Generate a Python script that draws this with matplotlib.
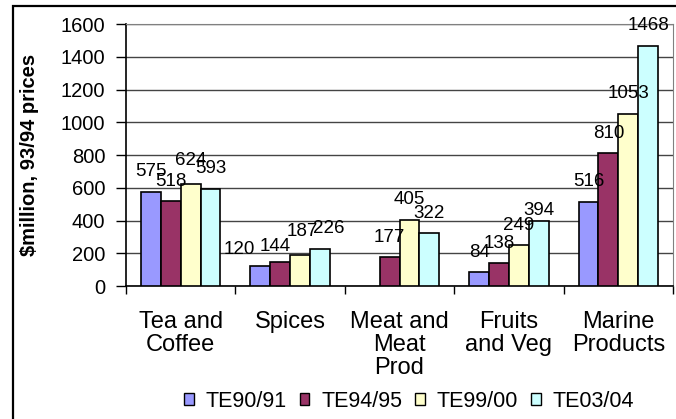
import matplotlib.pyplot as plt
from matplotlib.patches import Patch, Rectangle
import numpy as np

# Export values by product group, $million at 93/94 prices
categories = ["Tea and\nCoffee", "Spices", "Meat and\nMeat\nProd", "Fruits\nand Veg", "Marine\nProducts"]
series_names = ["TE90/91", "TE94/95", "TE99/00", "TE03/04"]
te90_91 = [575, 120, np.nan, 84, 516]
te94_95 = [518, 144, 177, 138, 810]
te99_00 = [624, 187, 405, 249, 1053]
te03_04 = [593, 226, 322, 394, 1468]

colors = ["#9999FF", "#993366", "#FFFFCC", "#CCFFFF"]

# a few labels sit off their usual spot (pixels: dx, dy)
label_nudge = {
    (1, 0): (-21, -3), (1, 1): (-5, -4), (1, 2): (2, 4), (1, 3): (9, 0),
    (0, 2): (0, 3), (3, 3): (0, -9),
}

plt.rcParams['font.family'] = ['Liberation Sans', 'DejaVu Sans']

fig = plt.figure(figsize=(6.76, 4.19), dpi=100)
W, H = 676, 419
ax = fig.add_axes([126 / W, (H - 286) / H, 547 / W, 262 / H])

series = [te90_91, te94_95, te99_00, te03_04]
x = np.arange(len(categories))
bar_w = 1 / 5.5
px = 72 / fig.dpi

for i, (vals, name, col) in enumerate(zip(series, series_names, colors)):
    pos = x + (i - 1.5) * bar_w
    ax.bar(pos, vals, width=bar_w, color=col, edgecolor='black', linewidth=1.2, zorder=3)
    for j, v in enumerate(vals):
        if np.isnan(v):
            continue
        dx, dy = label_nudge.get((j, i), (0, 0))
        ax.annotate(f"{v:.0f}", (pos[j], v), xytext=(dx * px, (20 + dy) * px),
                    textcoords='offset points', ha='center', va='center',
                    fontsize=13.5, zorder=4)

ax.set_xlim(-0.5, len(categories) - 0.5)
ax.set_ylim(0, 1600)
ax.set_yticks(np.arange(0, 1601, 200))
ax.yaxis.grid(True, color='#444444', linewidth=1.0, zorder=0)
ax.set_axisbelow(True)

ax.set_xticks(x)
ax.set_xticklabels(categories, fontsize=17, linespacing=1.05)
ax.set_xticks(np.arange(-0.5, len(categories)), minor=True)
ax.tick_params(axis='x', which='major', length=0, pad=18)
ax.tick_params(axis='x', which='minor', length=6, width=1, direction='out')
ax.tick_params(axis='y', length=7, width=1, direction='out', labelsize=14.5, pad=8)

for side in ['top', 'right']:
    ax.spines[side].set_color('#808080')
for side in ['left', 'bottom']:
    ax.spines[side].set_color('black')
    ax.spines[side].set_linewidth(1.2)

fig.text(29.5 / W, (H - 154.5) / H, "$million, 93/94 prices", rotation=90,
         ha='center', va='center', fontsize=14.5, fontweight='bold')

handles = [Patch(facecolor=c, edgecolor='black', linewidth=1) for c in colors]
fig.legend(handles, series_names, loc='center', bbox_to_anchor=(409 / W, 18 / H),
           ncol=4, frameon=False, fontsize=15.5, handlelength=0.45, handleheight=0.45,
           handletextpad=0.55, columnspacing=0.6, borderpad=0)

# chart area border, running off the right and bottom edges
fig.patches.append(Rectangle((12.5 / W, -0.1), 1.2, (H - 6) / H + 0.1,
                             transform=fig.transFigure, fill=False,
                             edgecolor='black', linewidth=1.6))

fig.savefig("out.png", dpi=100)
